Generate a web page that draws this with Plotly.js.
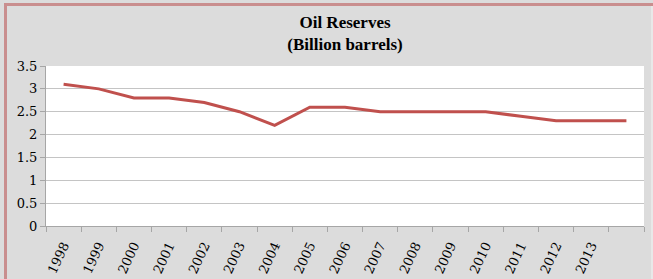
<!DOCTYPE html>
<html>
<head>
<meta charset="utf-8">
<script src="https://cdn.plot.ly/plotly-3.0.1.min.js"></script>
<style>
  html, body { margin: 0; padding: 0; background: #e6e0e0; }
  #wrap { position: relative; width: 653px; height: 279px; overflow: hidden; }
  #chart { position: absolute; left: 0; top: 0; width: 653px; height: 279px; }
  .bl { position: absolute; left: 4px; top: 3px; width: 3px; height: 276px; background: #c98e8e; }
  .bt { position: absolute; left: 4px; top: 3px; width: 649px; height: 3px; background: #c98e8e; }
  .br { position: absolute; left: 651px; top: 6px; width: 2px; height: 273px; background: #e8e8e8; }
</style>
</head>
<body>
<div id="wrap">
  <div id="chart"></div>
  <div class="bl"></div>
  <div class="bt"></div>
  <div class="br"></div>
</div>
<script>
const years = ['1998','1999','2000','2001','2002','2003','2004','2005','2006','2007','2008','2009','2010','2011','2012','2013',' '];
const reserves = [3.1, 3.0, 2.8, 2.8, 2.7, 2.5, 2.2, 2.6, 2.6, 2.5, 2.5, 2.5, 2.5, 2.4, 2.3, 2.3, 2.3];
const yTicks = [0, 0.5, 1, 1.5, 2, 2.5, 3, 3.5];
const yTickText = ['0', '0.5', '1', '1.5', '2', '2.5', '3', '3.5'];
const titleText = 'Oil Reserves<br>(Billion barrels)';

const trace = {
  type: 'scatter',
  mode: 'lines',
  x: years,
  y: reserves,
  line: { color: '#c0504d', width: 3 },
  hoverinfo: 'x+y'
};

const layout = {
  width: 653,
  height: 279,
  paper_bgcolor: '#dcdcdc',
  plot_bgcolor: '#ffffff',
  margin: { l: 46, r: 9, t: 66, b: 53 },
  showlegend: false,
  title: {
    text: titleText,
    font: { family: 'Liberation Serif', size: 17, color: '#000000', weight: 'bold' },
    x: 0.5, xref: 'paper', xanchor: 'center',
    yref: 'container', y: 0.9, yanchor: 'middle'
  },
  xaxis: {
    type: 'category',
    categoryorder: 'array',
    categoryarray: years,
    range: [-0.5, years.length - 0.5],
    tickson: 'boundaries',
    ticks: 'outside',
    ticklen: 5,
    tickcolor: '#a6a6a6',
    showline: true,
    linecolor: '#a6a6a6',
    showgrid: false,
    tickangle: -65,
    ticklabelstandoff: 6,
    tickfont: { family: 'DejaVu Serif', size: 13, color: '#000000' },
    fixedrange: true
  },
  yaxis: {
    range: [0, 3.5],
    tickvals: yTicks,
    ticktext: yTickText,
    ticks: 'outside',
    ticklen: 5,
    tickcolor: '#a6a6a6',
    showline: true,
    linecolor: '#a6a6a6',
    showgrid: true,
    gridcolor: '#c4c4c4',
    gridwidth: 1,
    zeroline: false,
    tickfont: { family: 'DejaVu Serif', size: 13, color: '#000000' },
    fixedrange: true
  }
};

Plotly.newPlot('chart', [trace], layout, { displayModeBar: false, staticPlot: true });
</script>
</body>
</html>
